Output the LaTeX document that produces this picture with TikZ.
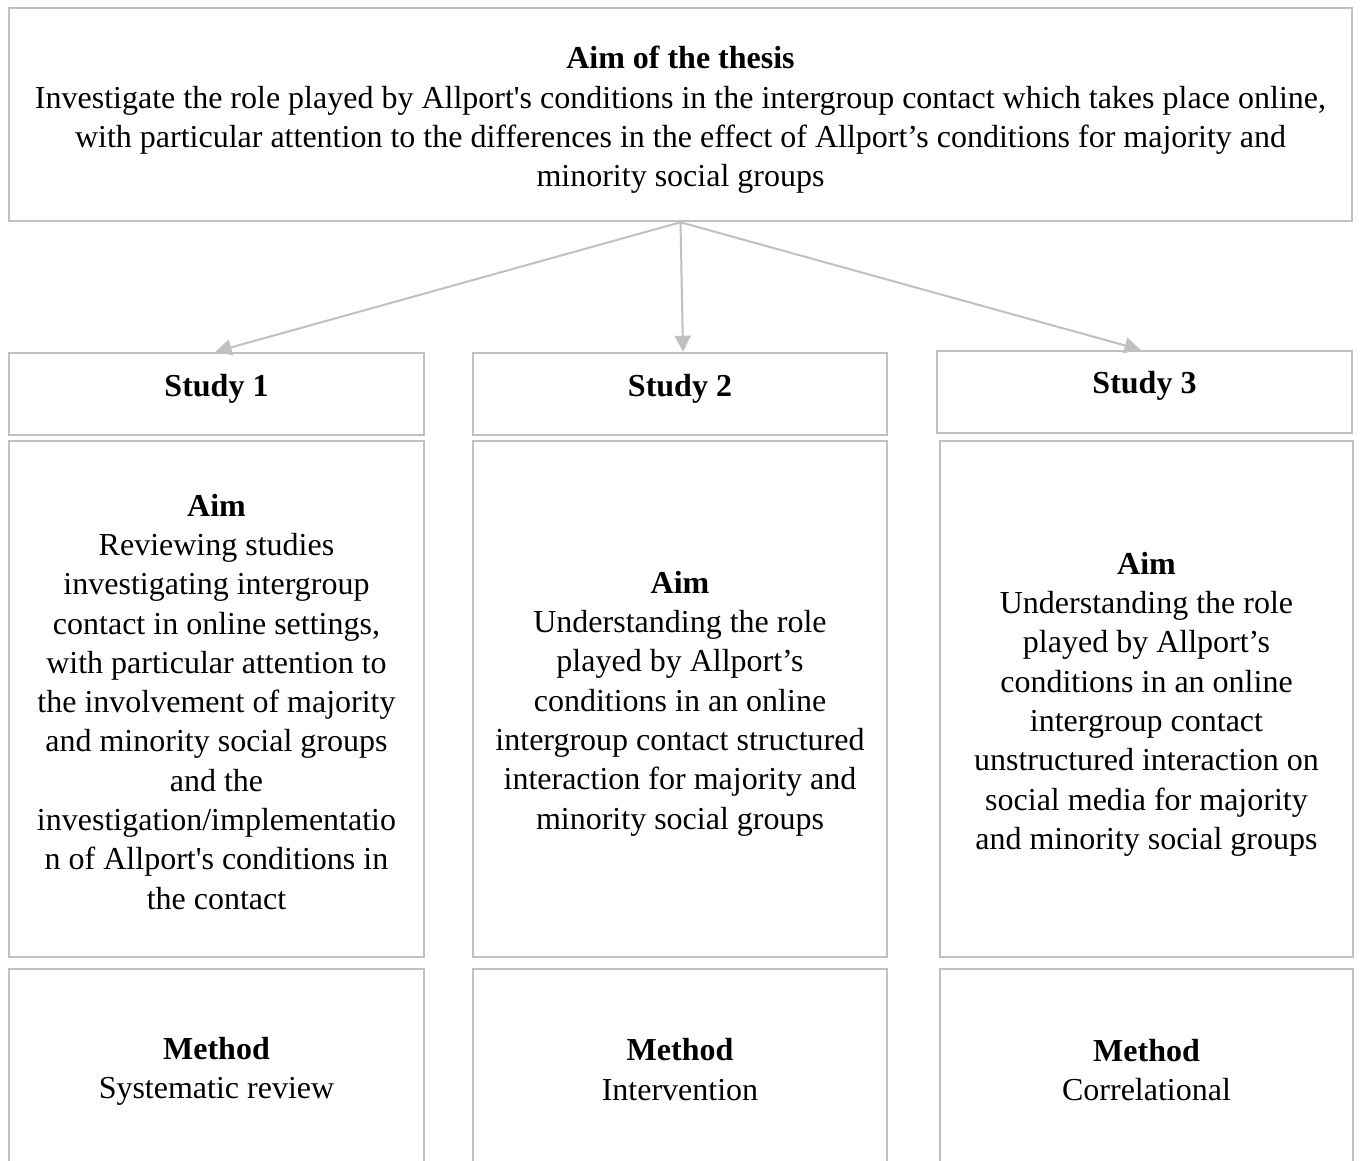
\documentclass[tikz,border=0pt]{standalone}
\usepackage{fontspec}
\setmainfont{Liberation Serif}[Ligatures=TeXOff]
\usetikzlibrary{arrows.meta}
\definecolor{boxgray}{HTML}{C0C0C0}
\newcommand{\mystrut}{\rule[-3.2pt]{0pt}{25.6pt}}
\begin{document}
\begin{tikzpicture}[x=1pt,y=-1pt,
  box/.style={draw=boxgray, line width=2.5pt, rectangle, inner sep=0pt},
  txt/.style={inner sep=0pt, align=center, font=\fontsize{32}{39.3}\selectfont},
  conn/.style={draw=boxgray, line width=2pt, -{Triangle[length=16pt,width=16pt]}},
  lbl/.style={anchor=base, inner sep=0pt, font=\fontsize{32}{39.3}\selectfont\bfseries}
]
\useasboundingbox (0,0) rectangle (1360,1160);
\clip (0,0) rectangle (1360,1160);
\fill[white] (0,0) rectangle (1360,1160);

\node[box, minimum width=1343pt, minimum height=213pt] (top) at (680.5,114.5) {};
\node[txt] (topt) at (680.5,120)
 {\mystrut\textbf{Aim of the thesis}\\
 Investigate the role played by Allport's conditions in the intergroup contact which takes place online,\\
 with particular attention to the differences in the effect of Allport’s conditions for majority and\\
 minority social groups\mystrut};

\node[box, minimum width=415pt, minimum height=82pt] (s1) at (216.5,394) {};
\node[box, minimum width=414pt, minimum height=82pt] (s2) at (680,394) {};
\node[box, minimum width=415pt, minimum height=82pt] (s3) at (1144.5,392) {};
\node[lbl] (s1t) at (216.5,396) {Study 1};
\node[lbl] (s2t) at (680,396) {Study 2};
\node[lbl] (s3t) at (1144.5,393) {Study 3};

\node[box, minimum width=415pt, minimum height=516pt] (a1) at (216.5,699) {};
\node[box, minimum width=414pt, minimum height=516pt] (a2) at (680,699) {};
\node[box, minimum width=413pt, minimum height=516pt] (a3) at (1146.5,699) {};
\node[txt] (a1t) at (216.5,703)
 {\mystrut\textbf{Aim}\\
 Reviewing studies\\
 investigating intergroup\\
 contact in online settings,\\
 with particular attention to\\
 the involvement of majority\\
 and minority social groups\\
 and the\\
 investigation/implementatio\\
 n of Allport's conditions in\\
 the contact\mystrut};
\node[txt] (a2t) at (680,703.5)
 {\mystrut\textbf{Aim}\\
 Understanding the role\\
 played by Allport’s\\
 conditions in an online\\
 intergroup contact structured\\
 interaction for majority and\\
 minority social groups\mystrut};
\node[txt] (a3t) at (1146.5,704)
 {\mystrut\textbf{Aim}\\
 Understanding the role\\
 played by Allport’s\\
 conditions in an online\\
 intergroup contact\\
 unstructured interaction on\\
 social media for majority\\
 and minority social groups\mystrut};

\node[box, minimum width=415pt, minimum height=198pt] (m1) at (216.5,1068) {};
\node[box, minimum width=414pt, minimum height=198pt] (m2) at (680,1068) {};
\node[box, minimum width=413pt, minimum height=198pt] (m3) at (1146.5,1068) {};
\node[txt] (m1t) at (216.5,1071.5) {\mystrut\textbf{Method}\\ Systematic review\mystrut};
\node[txt] (m2t) at (680,1071) {\mystrut\textbf{Method}\\ Intervention\mystrut};
\node[txt] (m3t) at (1146.5,1071.5) {\mystrut\textbf{Method}\\ Correlational\mystrut};

\draw[conn] (top.south) -- ([xshift=-1pt]s1.north);
\draw[conn] (top.south) -- ([xshift=3pt]s2.north);
\draw[conn] (top.south) -- ([xshift=-4pt]s3.north);
\end{tikzpicture}
\end{document}
